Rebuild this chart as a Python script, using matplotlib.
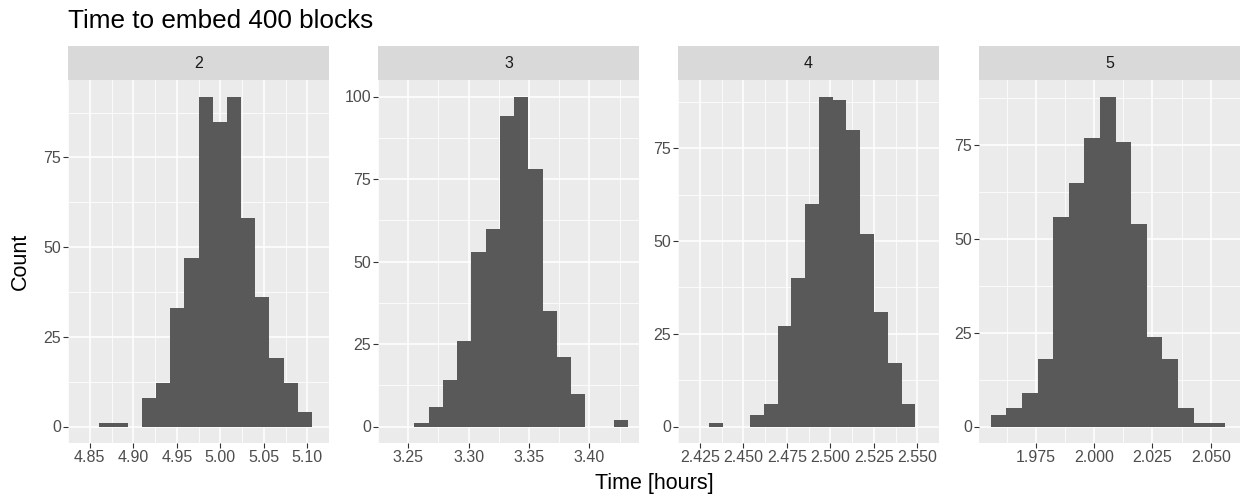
import numpy as np
import matplotlib
matplotlib.use("Agg")
import matplotlib.pyplot as plt

# facet labels
facets = ["2", "3", "4", "5"]

# histogram counts per facet (15 bins each)
counts_2 = [1, 1, 0, 8, 12, 33, 47, 92, 85, 92, 58, 36, 19, 12, 4]
counts_3 = [1, 6, 14, 26, 53, 60, 94, 100, 78, 35, 21, 10, 0, 0, 2]
counts_4 = [1, 0, 0, 3, 6, 27, 40, 60, 89, 88, 80, 52, 31, 17, 6]
counts_5 = [3, 5, 9, 18, 56, 65, 77, 88, 76, 54, 24, 18, 5, 1, 1]

# outer bin edges per facet (hours)
bin_lo = [4.861, 3.255, 2.4302, 1.9557]
bin_hi = [5.1055, 3.4322, 2.5489, 2.0560]

# axis ticks per facet
xticks_2 = [4.85, 4.90, 4.95, 5.00, 5.05, 5.10]
xticks_3 = [3.25, 3.30, 3.35, 3.40]
xticks_4 = [2.425, 2.450, 2.475, 2.500, 2.525, 2.550]
xticks_5 = [1.975, 2.000, 2.025, 2.050]
xfmt = ["{:.2f}", "{:.2f}", "{:.3f}", "{:.3f}"]
yticks = [0, 25, 50, 75, 100]

all_counts = [counts_2, counts_3, counts_4, counts_5]
all_xticks = [xticks_2, xticks_3, xticks_4, xticks_5]

plt.rcParams['font.family'] = ['Liberation Sans', 'DejaVu Sans']

W, H = 1243, 497
fig = plt.figure(figsize=(W / 100, H / 100), dpi=100)

# panel geometry in pixels
panel_left = [68, 378, 678, 979]
panel_w = 261
panel_top, panel_bot = 80, 443
strip_top = 46

for i in range(4):
    ax = fig.add_axes([panel_left[i] / W, (H - panel_bot) / H,
                       panel_w / W, (panel_bot - panel_top) / H])
    ax.set_facecolor("#EBEBEB")
    edges = np.linspace(bin_lo[i], bin_hi[i], len(all_counts[i]) + 1)
    ax.bar(edges[:-1], all_counts[i], width=np.diff(edges), align="edge",
           color="#595959", linewidth=0, zorder=3)

    span = bin_hi[i] - bin_lo[i]
    ax.set_xlim(bin_lo[i] - 0.05 * span, bin_hi[i] + 0.05 * span)
    ymax = max(all_counts[i])
    ax.set_ylim(-0.05 * ymax, 1.05 * ymax)

    xt = all_xticks[i]
    step = xt[1] - xt[0]
    ax.set_xticks(xt)
    ax.set_xticklabels([xfmt[i].format(v) for v in xt])
    ax.set_xticks(np.arange(xt[0] - step / 2, xt[-1] + step, step), minor=True)
    yt = [v for v in yticks if v <= 1.05 * ymax]
    ax.set_yticks(yt)
    ax.set_yticks(np.arange(12.5, 1.05 * ymax, 25), minor=True)

    ax.grid(which="major", color="white", linewidth=1.1, zorder=0)
    ax.grid(which="minor", color="white", linewidth=0.55, zorder=0)
    ax.set_axisbelow(True)
    for s in ax.spines.values():
        s.set_visible(False)
    ax.tick_params(which="major", length=3.3, width=0.8, color="#333333",
                   labelcolor="#4D4D4D", labelsize=11.5, pad=1.8)
    ax.tick_params(which="minor", length=0)

    # facet strip
    sx = fig.add_axes([panel_left[i] / W, (H - panel_top) / H,
                       panel_w / W, (panel_top - strip_top) / H])
    sx.set_facecolor("#D9D9D9")
    sx.set_xticks([])
    sx.set_yticks([])
    for s in sx.spines.values():
        s.set_visible(False)
    sx.text(0.5, 0.5, facets[i], ha="center", va="center",
            fontsize=11.5, color="#1A1A1A", transform=sx.transAxes)

fig.text(68 / W, 1 - 28 / H, "Time to embed 400 blocks", fontsize=18.8,
         ha="left", va="baseline", color="black")
fig.text((68 + 1240) / 2 / W, 1 - 484 / H, "Time [hours]", fontsize=15.5,
         ha="center", va="center", color="black")
fig.text(20 / W, 1 - 261 / H, "Count", fontsize=15.5, rotation=90,
         ha="center", va="center", color="black")

fig.savefig("out.png", dpi=100)
